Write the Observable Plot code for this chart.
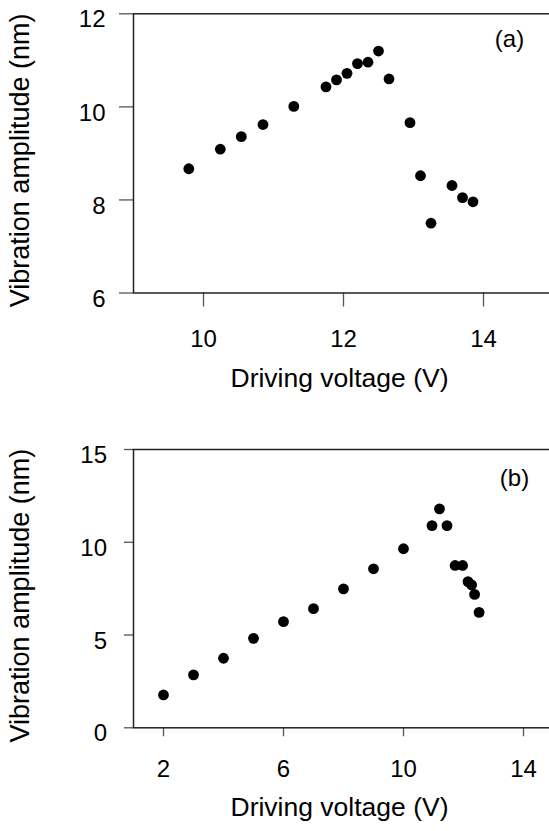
<!DOCTYPE html>
<html><head><meta charset="utf-8">
<script src="https://cdn.jsdelivr.net/npm/d3@7"></script>
<script src="https://cdn.jsdelivr.net/npm/@observablehq/plot@0.6"></script>
<style>
html,body{margin:0;padding:0;background:#fff;overflow:hidden;width:549px;height:831px}
#chart{width:549px;overflow:hidden}
#chart svg{display:block;max-width:none !important;width:560px;height:auto}
</style></head><body><div id="chart"></div>
<script>
// Panel (a)
const aVoltage   = [9.79, 10.24, 10.54, 10.85, 11.29, 11.75, 11.90, 12.05, 12.20, 12.35, 12.50, 12.65, 12.95, 13.10, 13.25, 13.55, 13.70, 13.85];
const aAmplitude = [8.67, 9.09, 9.36, 9.62, 10.01, 10.43, 10.58, 10.72, 10.93, 10.96, 11.20, 10.60, 9.66, 8.52, 7.50, 8.31, 8.05, 7.96];
const aXTicks = [10, 12, 14];
const aYTicks = [6, 8, 10, 12];
// Panel (b)
const bVoltage   = [2, 3, 4, 5, 6, 7, 8, 9, 10, 10.95, 11.2, 11.45, 11.72, 11.97, 12.15, 12.27, 12.37, 12.52];
const bAmplitude = [1.77, 2.85, 3.75, 4.82, 5.72, 6.42, 7.49, 8.57, 9.65, 10.9, 11.8, 10.9, 8.75, 8.75, 7.88, 7.70, 7.19, 6.22];
const bXTicks = [2, 6, 10, 14];
const bYTicks = [0, 5, 10, 15];
const panelLabels = ["(a)", "(b)"];
const xTitle = "Driving voltage (V)";
const yTitle = "Vibration amplitude (nm)";

const FONT = "'Liberation Sans', Arial, Helvetica, sans-serif";

function panel(o) {
  return Plot.plot({
    width: 560, height: o.height,
    marginLeft: 133, marginRight: 7, marginTop: o.mt, marginBottom: o.mb,
    style: {fontFamily: FONT, background: "#fff", color: "#000", overflow: "visible", maxWidth: "none"},
    x: {domain: o.xd},
    y: {domain: o.yd},
    marks: [
      Plot.axisX(o.xt, {tickSize: o.ts, fill: "none", stroke: "#555", strokeWidth: 1.3, label: null}),
      Plot.axisX(o.xt, {tickSize: 0, tickPadding: o.xpad, fontSize: 24, label: null}),
      Plot.axisY(o.yt, {tickSize: o.ts, fill: "none", stroke: "#555", strokeWidth: 1.3, label: null}),
      Plot.axisY(o.yt, {tickSize: 0, tickPadding: o.ypad, dy: 6, fontSize: 24, label: null}),
      Plot.frame({stroke: "#222", strokeWidth: 1.5}),
      Plot.dot(o.xs, {x: o.xs, y: o.ys, r: 5.4, fill: "#000", stroke: null}),
      Plot.text([o.label], {frameAnchor: "top-right", textAnchor: "middle", lineAnchor: "bottom", dx: o.ldx, dy: o.ldy, fontSize: 24}),
      Plot.text([xTitle], {frameAnchor: "bottom", textAnchor: "middle", lineAnchor: "bottom", dx: -4, dy: o.xtdy, fontSize: 26.5}),
      Plot.text([yTitle], {frameAnchor: "left", textAnchor: "middle", rotate: -90, lineAnchor: "bottom", dx: -105, dy: 7, fontSize: 27})
    ]
  });
}

const chart = document.getElementById("chart");
chart.appendChild(panel({
  height: 415, mt: 13.3, mb: 122.5,
  xd: [9, 15], yd: [6, 12], xt: aXTicks, yt: aYTicks,
  ts: 14, xpad: 37, ypad: 28,
  xs: aVoltage, ys: aAmplitude,
  label: panelLabels[0], ldx: -44, ldy: 32.7, xtdy: 93.5
}));
chart.appendChild(panel({
  height: 416, mt: 34, mb: 103.7,
  xd: [1, 15], yd: [0, 15], xt: bXTicks, yt: bYTicks,
  ts: 9, xpad: 32, ypad: 26.5,
  xs: bVoltage, ys: bAmplitude,
  label: panelLabels[1], ldx: -39, ldy: 36.5, xtdy: 88.4
}));
</script></body></html>
